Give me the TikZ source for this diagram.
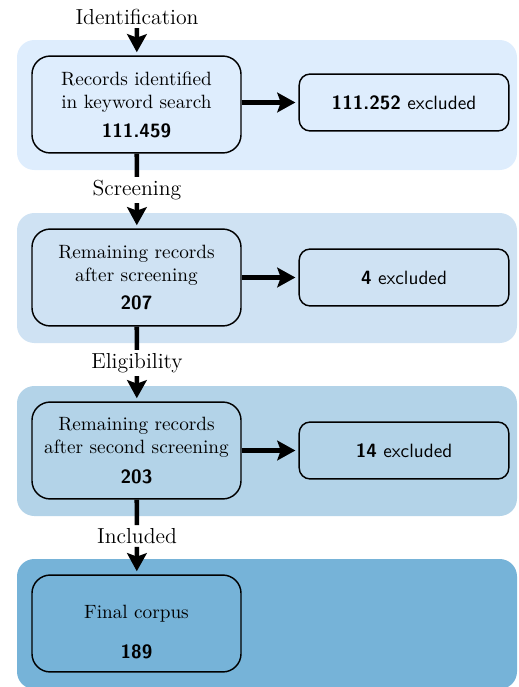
\documentclass[tikz,border=0pt]{standalone}
\usetikzlibrary{arrows.meta}
\definecolor{bandA}{RGB}{222,237,253}
\definecolor{bandB}{RGB}{207,226,243}
\definecolor{bandC}{RGB}{179,211,232}
\definecolor{bandD}{RGB}{118,179,216}
\begin{document}
\begin{tikzpicture}[x=0.52pt,y=-0.52pt,
  bandbox/.style={rounded corners=9pt},
  mainbox/.style={draw=black,line width=0.75pt,rounded corners=9.5pt,minimum width=108.7pt,minimum height=50.4pt,align=center,inner sep=0pt},
  exclbox/.style={draw=black,line width=0.75pt,rounded corners=5.7pt,minimum width=109pt,minimum height=29.6pt,font=\sffamily,inner sep=0pt},
  phase/.style={inner sep=1.5pt,font=\fontsize{11.3}{13.5}\selectfont},
  flow/.style={line width=2.4pt,-{Stealth[length=9.4pt,width=10.2pt,inset=1.8pt]},shorten >=1.6pt},
  bar/.style={line width=2.4pt}]
\useasboundingbox (0,0) rectangle (518,687);
\clip (0,0) rectangle (518,687);
% bands
\fill[bandA,bandbox] (17,40) rectangle (517,170);
\fill[bandB,bandbox] (17,213) rectangle (517,343);
\fill[bandC,bandbox] (17,386) rectangle (517,516);
\fill[bandD,bandbox] (17,559) rectangle (517,689);
% phase labels
\node[phase] (p1) at (137,17) {Identification};
\node[phase] (p2) at (137,190) {Screening};
\node[phase] (p3) at (137,363) {Eligibility};
\node[phase] (p4) at (137,536) {Included};
% main boxes
\node[mainbox] (b1) at (136.5,104.5) {Records identified\\in keyword search\\[3pt]{\sffamily\bfseries 111.459}};
\node[mainbox] (b2) at (136.5,277.5) {Remaining records\\after screening\\[3pt]{\sffamily\bfseries 207}};
\node[mainbox] (b3) at (136.5,450.5) {Remaining records\\after second screening\\[3.5pt]{\sffamily\bfseries 203}};
\node[mainbox] (b4) at (136.5,623.5) {\rule{0pt}{16pt}Final corpus\\[9pt]{\sffamily\bfseries 189}};
% excluded boxes
\node[exclbox] (e1) at (404,102.5) {\textbf{111.252} excluded};
\node[exclbox] (e2) at (404,277.5) {\textbf{4} excluded};
\node[exclbox] (e3) at (404,450.5) {\textbf{14} excluded};
% connectors
\draw[flow] (p1) -- (b1);
\draw[bar] (b1) -- (p2);
\draw[flow] (p2) -- (b2);
\draw[bar] (b2) -- (p3);
\draw[flow] (p3) -- (b3);
\draw[bar] (b3) -- (p4);
\draw[flow] (p4) -- (b4);
\draw[flow] (b1.east |- e1.west) -- (e1.west);
\draw[flow] (b2.east |- e2.west) -- (e2.west);
\draw[flow] (b3.east |- e3.west) -- (e3.west);
\end{tikzpicture}
\end{document}
